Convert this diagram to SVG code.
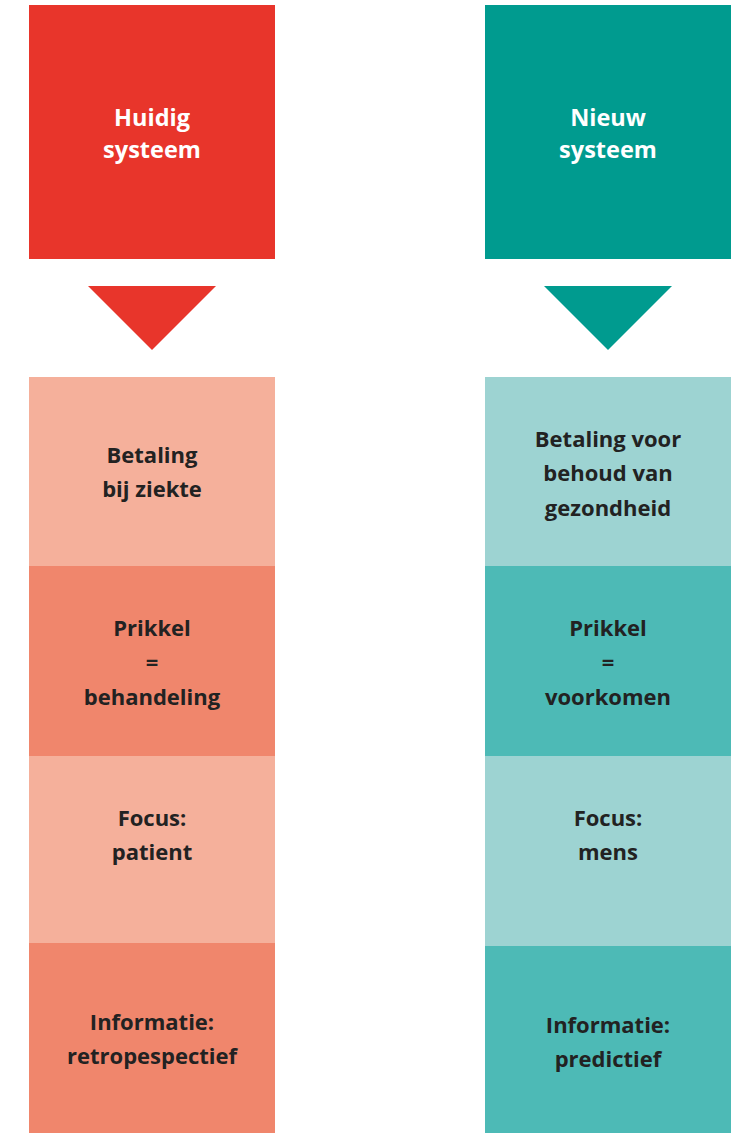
<svg xmlns="http://www.w3.org/2000/svg" width="742" height="1133" viewBox="0 0 742 1133">
<style>
.t{font-family:"Open Sans","Noto Sans","Liberation Sans",sans-serif;font-weight:700;font-size:22px;text-anchor:middle;fill:#222222}
.w{fill:#ffffff;font-size:23.5px}
</style>
<rect width="742" height="1133" fill="#ffffff"/>
<g id="huidig">
<rect x="29" y="5" width="246" height="254" fill="#E8352B"/>
<text class="t w" x="152" y="126">Huidig</text>
<text class="t w" x="152" y="158">systeem</text>
</g>
<g id="nieuw">
<rect x="485" y="5" width="246" height="254" fill="#009B8F"/>
<text class="t w" x="608" y="126">Nieuw</text>
<text class="t w" x="608" y="158">systeem</text>
</g>
<g id="connectors">
<polygon points="88,286 216,286 152,350" fill="#E8352B"/>
<polygon points="544,286 672,286 608,350" fill="#009B8F"/>
</g>
<g id="l1">
<rect x="29" y="377" width="246" height="189" fill="#F5B09B"/>
<text class="t" x="152" y="463">Betaling</text>
<text class="t" x="152" y="497">bij ziekte</text>
</g>
<g id="l2">
<rect x="29" y="566" width="246" height="190" fill="#F0866C"/>
<text class="t" x="152" y="636">Prikkel</text>
<text class="t" x="152" y="670">=</text>
<text class="t" x="152" y="705">behandeling</text>
</g>
<g id="l3">
<rect x="29" y="756" width="246" height="187" fill="#F5B09B"/>
<text class="t" x="152" y="826">Focus:</text>
<text class="t" x="152" y="860">patient</text>
</g>
<g id="l4">
<rect x="29" y="943" width="246" height="190" fill="#F0866C"/>
<text class="t" x="152" y="1030">Informatie:</text>
<text class="t" x="152" y="1064">retropespectief</text>
</g>
<g id="r1">
<rect x="485" y="377" width="246" height="189" fill="#9DD3D2"/>
<text class="t" x="608" y="447">Betaling voor</text>
<text class="t" x="608" y="481">behoud van</text>
<text class="t" x="608" y="516">gezondheid</text>
</g>
<g id="r2">
<rect x="485" y="566" width="246" height="190" fill="#4DBAB6"/>
<text class="t" x="608" y="636">Prikkel</text>
<text class="t" x="608" y="670">=</text>
<text class="t" x="608" y="705">voorkomen</text>
</g>
<g id="r3">
<rect x="485" y="756" width="246" height="190" fill="#9DD3D2"/>
<text class="t" x="608" y="826">Focus:</text>
<text class="t" x="608" y="860">mens</text>
</g>
<g id="r4">
<rect x="485" y="946" width="246" height="187" fill="#4DBAB6"/>
<text class="t" x="608" y="1033">Informatie:</text>
<text class="t" x="608" y="1067">predictief</text>
</g>
</svg>
